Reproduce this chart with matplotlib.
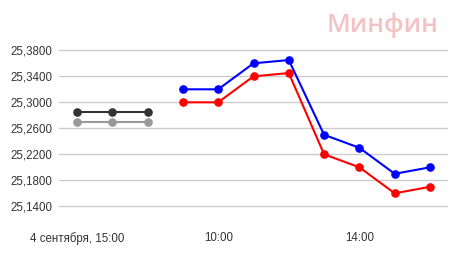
import numpy as np
import matplotlib
matplotlib.use('Agg')
import matplotlib.pyplot as plt

# time slots along the x axis (previous day close + today hours)
times = ['4 сентября, 15:00', '16:00', '17:00',
         '9:00', '10:00', '11:00', '12:00', '13:00', '14:00', '15:00', '16:00']
shown_ticks = [0, 4, 8]

# previous day (gray lines)
prev_sell = [25.285, 25.285, 25.285]
prev_buy = [25.270, 25.270, 25.270]

# today (blue = sell, red = buy)
sell = [25.320, 25.320, 25.360, 25.365, 25.250, 25.230, 25.190, 25.200]
buy = [25.300, 25.300, 25.340, 25.345, 25.220, 25.200, 25.160, 25.170]

yticks = [25.14, 25.18, 25.22, 25.26, 25.30, 25.34, 25.38]

plt.rcParams['font.family'] = ['Liberation Sans', 'DejaVu Sans']

fig = plt.figure(figsize=(4.58, 2.54), dpi=100)
ax = fig.add_axes([0.1296, 0.1366, 0.8478, 0.7165])

x_prev = np.arange(len(prev_sell))
x_today = np.arange(len(prev_sell), len(prev_sell) + len(sell))

ax.plot(x_prev, prev_sell, color='#333333', lw=1.5, marker='o', ms=5.2, zorder=3)
ax.plot(x_prev, prev_buy, color='#999999', lw=1.5, marker='o', ms=5.2, zorder=3)
ax.plot(x_today, sell, color='#0000ff', lw=1.5, marker='o', ms=5.2, zorder=3)
ax.plot(x_today, buy, color='#ff0000', lw=1.5, marker='o', ms=5.2, zorder=3)

ax.set_xlim(-0.5, len(times) - 0.5)
ax.set_ylim(25.12, 25.40)
ax.set_yticks(yticks)
ax.set_yticklabels([f'{v:.4f}'.replace('.', ',') for v in yticks])
ax.set_xticks(shown_ticks)
ax.set_xticklabels([times[i] for i in shown_ticks])
ax.tick_params(axis='both', length=0, labelsize=8.3, colors='#333333')
ax.tick_params(axis='x', pad=9)
ax.tick_params(axis='y', pad=5)
ax.yaxis.grid(True, color='#cccccc', lw=1)
ax.set_axisbelow(True)
for s in ax.spines.values():
    s.set_visible(False)

fig.text(383 / 458, 1 - 25 / 254, 'Минфин', color='#f4c2c2', fontsize=18.5,
         fontweight='semibold', family=['Open Sans', 'DejaVu Sans'],
         ha='center', va='center')

fig.savefig('out.png', dpi=100)
